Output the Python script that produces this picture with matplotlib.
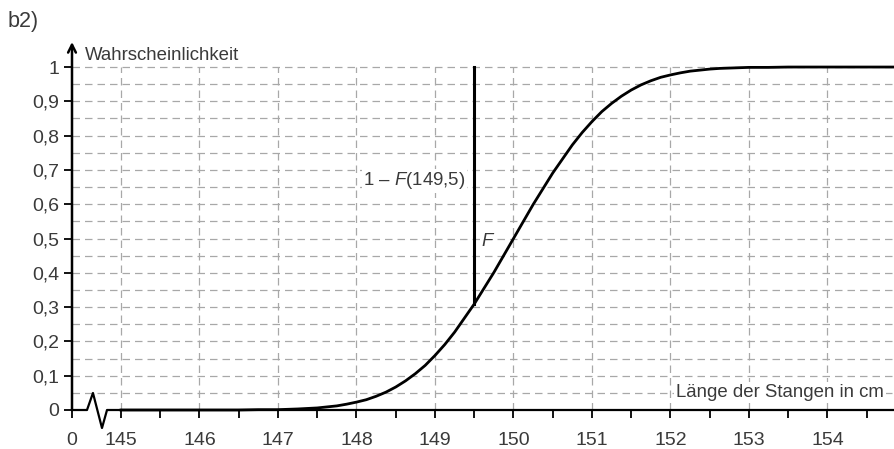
import numpy as np
import matplotlib.pyplot as plt

plt.rcParams['font.family'] = ['Liberation Sans', 'DejaVu Sans']
plt.rcParams['mathtext.fontset'] = 'custom'
plt.rcParams['mathtext.rm'] = 'Liberation Sans'
plt.rcParams['mathtext.it'] = 'Liberation Sans:italic'

# curve values (Laenge in cm, Wahrscheinlichkeit)
laenge = [145.0, 145.5, 146.0, 146.5, 146.75, 147.0, 147.25, 147.5,
          147.625, 147.75, 147.875, 148.0, 148.125, 148.25, 148.375,
          148.5, 148.625, 148.75, 148.875, 149.0, 149.125, 149.25,
          149.5, 149.75, 150.0, 150.25, 150.5, 150.75, 150.875,
          151.0, 151.125, 151.25, 151.375, 151.5, 151.625, 151.75,
          151.875, 152.0, 152.125, 152.25, 152.375, 152.5, 152.625,
          152.75, 153.0, 153.25, 153.5, 154.0, 154.5, 154.86]
wahrsch = [0.000, 0.000, 0.000, 0.000, 0.001, 0.001, 0.003, 0.006,
           0.009, 0.012, 0.017, 0.023, 0.030, 0.040, 0.052,
           0.067, 0.085, 0.106, 0.130, 0.159, 0.191, 0.227,
           0.309, 0.401, 0.500, 0.599, 0.691, 0.773, 0.809,
           0.841, 0.870, 0.894, 0.915, 0.933, 0.948, 0.960,
           0.970, 0.977, 0.983, 0.988, 0.991, 0.994, 0.996,
           0.997, 0.999, 0.999, 1.000, 1.000, 1.000, 1.000]
x_mark = 149.5
F_mark = 0.309

x_ticks = [145, 146, 147, 148, 149, 150, 151, 152, 153, 154]
y_ticks = [0, 0.1, 0.2, 0.3, 0.4, 0.5, 0.6, 0.7, 0.8, 0.9, 1]
y_labels = ['0', '0,1', '0,2', '0,3', '0,4', '0,5', '0,6', '0,7', '0,8', '0,9', '1']

x0 = 144.376   # where the "0" of the broken axis sits
xmax = 154.86
ytop = 1.073
txt = '#3a3a3a'
grid_c = '#a8a8a8'
fs = 13.4

fig = plt.figure(figsize=(8.95, 4.49), dpi=100)
ax = fig.add_axes([72 / 895, 39 / 449, 1 - 72 / 895, 368 / 449])
ax.set_xlim(x0, xmax)
ax.set_ylim(0, ytop)
for s in ax.spines.values():
    s.set_visible(False)

# grid
for yy in np.arange(0.05, 1.001, 0.05):
    ax.plot([x0, xmax], [yy, yy], color=grid_c, lw=0.9, ls=(0, (6, 4)), zorder=1)
for xx in x_ticks:
    ax.plot([xx, xx], [0, 1], color=grid_c, lw=0.9, ls=(0, (6, 4)), zorder=1)

# broken x axis
bx = [x0, 144.567, 144.643, 144.758, 144.822, xmax]
by = [0, 0, 0.0496, -0.0525, 0, 0]
ax.plot(bx, by, color='black', lw=1.6, clip_on=False, zorder=3)
# y axis with arrow
ax.annotate('', xy=(x0, ytop), xytext=(x0, 0), xycoords='data',
            arrowprops=dict(arrowstyle='->', lw=1.8, color='black',
                            shrinkA=0, shrinkB=0, mutation_scale=14),
            annotation_clip=False, zorder=3)

# ticks
ax.set_xticks([x0] + x_ticks)
ax.set_xticklabels(['0'] + [str(v) for v in x_ticks])
ax.set_xticks(np.arange(145.5, 154.6, 1.0), minor=True)
ax.tick_params(axis='x', which='both', direction='out', length=6, width=1.3,
               pad=10, labelsize=14, labelcolor=txt)
ax.set_yticks(y_ticks)
ax.set_yticklabels(y_labels)
ax.tick_params(axis='y', direction='out', length=6, width=1.3, pad=3,
               labelsize=14, labelcolor=txt)

# curve and marker line
ax.plot(laenge, wahrsch, color='black', lw=2.0, zorder=4, clip_on=False,
        solid_joinstyle='round')
ax.plot([x_mark, x_mark], [F_mark, 1], color='black', lw=2.2, zorder=4)

# texts
ax.text(144.54, 1.035, 'Wahrscheinlichkeit', fontsize=fs, color=txt,
        ha='left', va='center')
ax.text(154.72, 0.05, 'Länge der Stangen in cm', fontsize=fs, color=txt,
        ha='right', va='center', zorder=5,
        bbox=dict(facecolor='white', edgecolor='none', pad=1.5))
ax.text(x_mark - 0.11, 0.668, '1 – $F$(149,5)', fontsize=fs, color=txt,
        ha='right', va='center', zorder=5,
        bbox=dict(facecolor='white', edgecolor='none', pad=1.0))
ax.text(149.68, 0.49, '$F$', fontsize=fs, color=txt, ha='center',
        va='center', zorder=5,
        bbox=dict(facecolor='white', edgecolor='none', pad=0.5))
fig.text(8 / 895, 1 - 22 / 449, 'b2)', fontsize=15.5, color=txt,
         ha='left', va='center')

fig.savefig('out.png', dpi=100)
